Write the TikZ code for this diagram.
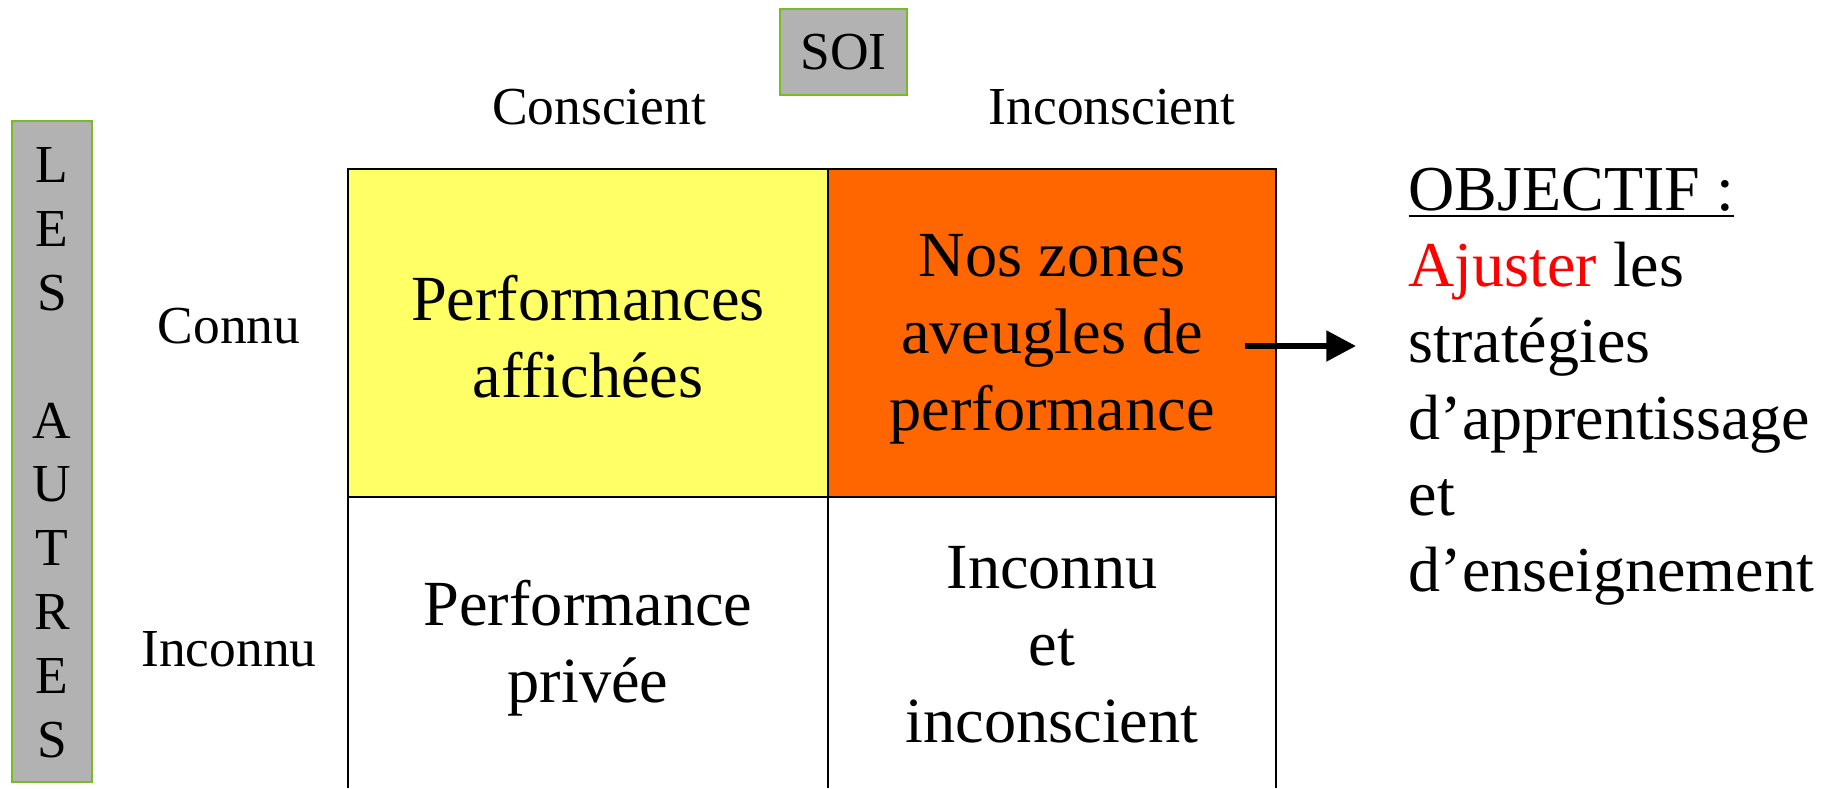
\documentclass[tikz,border=0pt]{standalone}
\usepackage{fontspec}
\setmainfont{Liberation Serif}
\usetikzlibrary{arrows.meta}
\definecolor{boxgreen}{RGB}{122,186,40}
\definecolor{cellyellow}{RGB}{255,255,102}
\definecolor{cellorange}{RGB}{255,102,0}

\begin{document}
\begin{tikzpicture}[x = 0.01cm, y = -0.01cm, >={Triangle[length=8.4pt, width=8.4pt]}]
    \tikzset{
        greybox/.style={draw=boxgreen, fill=gray!60, line width=0.6pt, inner sep=0pt},
        axislabel/.style={font=\fontsize{15.2}{18}\selectfont, inner sep=0pt},
        celltext/.style={align=center, font=\fontsize{18.3}{21.9}\selectfont, inner sep=0pt}
    }
    \useasboundingbox (0,0) rectangle (1831,788);

    % the four zones
    \fill [cellyellow] (348,169) rectangle (828,497);
    \fill [cellorange] (828,169) rectangle (1276,497);
    \draw [line width=0.6pt] (348,788) -- (348,169) -- (1276,169) -- (1276,788);
    \draw [line width=0.6pt] (828,169) -- (828,788);
    \draw [line width=0.6pt] (348,497) -- (1276,497);

    \node [greybox, minimum width=36.1pt, minimum height=24.5pt, axislabel] (soi) at (843.5,52) {SOI};
    \node [greybox, minimum width=22.8pt, minimum height=188pt] (autres) at (52,451.5) {};
    \foreach \letter [count=\i] in {L,E,S,{},A,U,T,R,E,S}
        \node [axislabel] (letter\i) at (52,{165+(\i-1)*63.9}) {\letter};

    \node [axislabel, anchor=base] (conscient) at (599,125) {Conscient};
    \node [axislabel, anchor=base] (inconscient) at (1112,125) {Inconscient};
    \node [axislabel, anchor=base] (connu) at (229,343) {Connu};
    \node [axislabel, anchor=base] (inconnu) at (229,666) {Inconnu};

    \node [celltext] (affichees) at (588,337) {Performances\\affichées};
    \node [celltext] (aveugles) at (1052,339) {Nos zones\\aveugles de\\performance};
    \node [celltext] (privee) at (588,648) {Performance\\privée};
    \node [celltext] (inconnuzone) at (1052,645) {Inconnu\\et\\inconscient};

    \node [celltext, align=left, anchor=north west, font=\fontsize{18.2}{21.7}\selectfont] (objectif) at (1408,167)
        {\underline{OBJECTIF :}\\\textcolor{red}{Ajuster} les\\stratégies\\d’apprentissage\\et\\d’enseignement};

    \coordinate (arrowstart) at (1245,346);
    \coordinate (arrowend) at (1356,346);
    \draw [->, line width=1.7pt] (arrowstart) -- (arrowend);
\end{tikzpicture}
\end{document}
